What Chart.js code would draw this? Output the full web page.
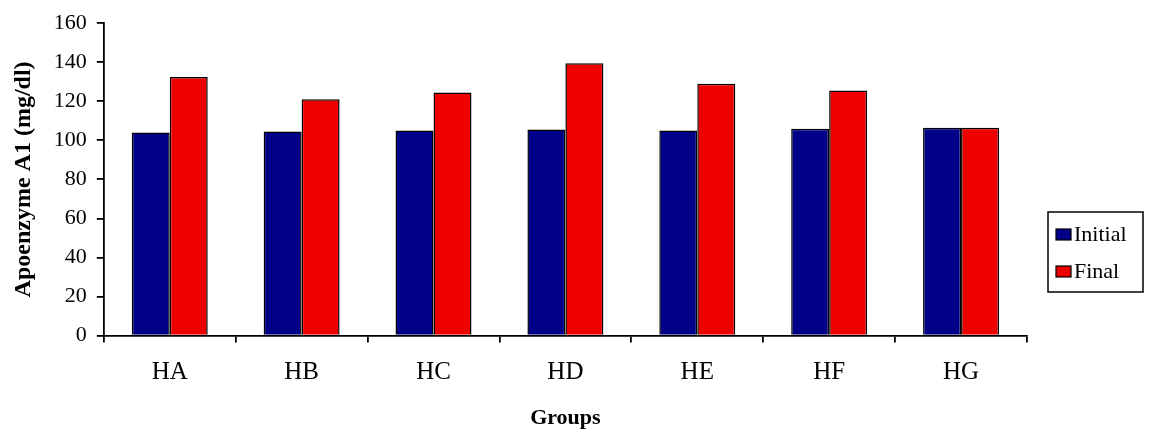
<!DOCTYPE html>
<html>
<head>
<meta charset="utf-8">
<script src="https://cdn.jsdelivr.net/npm/chart.js@4/dist/chart.umd.min.js"></script>
<style>
  html, body { margin: 0; padding: 0; background: #fff; }
  #wrap { width: 1151px; height: 432px; }
</style>
</head>
<body>
<div id="wrap"><canvas id="chart"></canvas></div>
<script>
const groups = ['HA', 'HB', 'HC', 'HD', 'HE', 'HF', 'HG'];
const initial = [104, 104.5, 105, 105.5, 105, 106, 106.5];
const final = [132.5, 121, 124.5, 139.5, 129, 125.5, 106.5];
const yTicks = [0, 20, 40, 60, 80, 100, 120, 140, 160];

const serif = '"Liberation Serif", "Times New Roman", serif';

// boxed legend drawn beside the plot, like the original
const boxLegend = {
  id: 'boxLegend',
  afterDraw(chart) {
    const ctx = chart.ctx;
    const x = 1048, y = 212, w = 95, h = 80;
    ctx.save();
    ctx.strokeStyle = '#000';
    ctx.lineWidth = 1.5;
    ctx.strokeRect(x, y, w, h);
    ctx.font = '22px ' + serif;
    ctx.textBaseline = 'middle';
    chart.data.datasets.forEach((ds, i) => {
      const cy = y + 22 + i * 37;
      ctx.fillStyle = ds.backgroundColor;
      ctx.fillRect(x + 8, cy - 5, 15, 11);
      ctx.lineWidth = 1.2;
      ctx.strokeRect(x + 8, cy - 5, 15, 11);
      ctx.fillStyle = '#000';
      ctx.fillText(ds.label, x + 26, cy + 1);
    });
    ctx.restore();
  }
};

new Chart(document.getElementById('chart'), {
  type: 'bar',
  data: {
    labels: groups,
    datasets: [
      {
        label: 'Initial',
        data: initial,
        backgroundColor: '#000088',
        borderColor: '#000',
        borderWidth: 1.5,
        borderSkipped: 'bottom'
      },
      {
        label: 'Final',
        data: final,
        backgroundColor: '#ee0000',
        borderColor: '#000',
        borderWidth: 1.5,
        borderSkipped: 'bottom'
      }
    ]
  },
  options: {
    responsive: true,
    maintainAspectRatio: false,
    animation: false,
    datasets: {
      bar: { categoryPercentage: 0.576, barPercentage: 1.0 }
    },
    layout: { padding: { top: 4, right: 124, left: 5, bottom: 0 } },
    plugins: {
      legend: { display: false },
      tooltip: { enabled: false }
    },
    scales: {
      x: {
        border: { color: '#000', width: 1.8 },
        grid: { display: true, drawOnChartArea: false, drawTicks: true, tickLength: 7, color: '#000', lineWidth: 1.8 },
        ticks: { color: '#000', font: { family: serif, size: 25 }, padding: 15, maxRotation: 0 },
        title: { display: true, text: 'Groups', color: '#000', font: { family: serif, size: 22, weight: 'bold' }, padding: { top: 3, bottom: 0 } }
      },
      y: {
        min: 0,
        max: 160,
        afterBuildTicks(axis) { axis.ticks = yTicks.map(v => ({ value: v })); },
        border: { color: '#000', width: 1.8 },
        grid: { display: true, drawOnChartArea: false, drawTicks: true, tickLength: 7, color: '#000', lineWidth: 1.8 },
        ticks: { color: '#000', font: { family: serif, size: 22 }, padding: 10 },
        title: { display: true, text: 'Apoenzyme A1 (mg/dl)', color: '#000', font: { family: serif, size: 24, weight: 'bold' }, padding: { top: 4, bottom: 6 } }
      }
    }
  },
  plugins: [boxLegend]
});
</script>
</body>
</html>
